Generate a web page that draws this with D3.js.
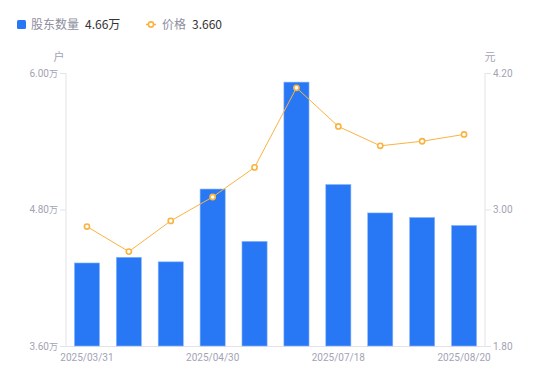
<!DOCTYPE html>
<html><head><meta charset="utf-8">
<script src="https://cdn.jsdelivr.net/npm/d3@7/dist/d3.min.js"></script>
<style>body{margin:0;background:#fff;font-family:"Noto Sans CJK SC","Noto Sans",sans-serif;}</style>
</head><body><svg id="c" width="550" height="381"></svg>
<script>
const categories = ["2025/03/31","2025/04/10","2025/04/20","2025/04/30","2025/05/20","2025/06/30","2025/07/18","2025/07/31","2025/08/10","2025/08/20"];
const holders = [4.33, 4.38, 4.34, 4.98, 4.52, 5.92, 5.02, 4.77, 4.73, 4.66];
const prices = [2.85, 2.63, 2.90, 3.11, 3.37, 4.07, 3.73, 3.56, 3.60, 3.66];
const leftTicks = [3.6, 4.8, 6.0];
const rightTicks = [1.8, 3.0, 4.2];
const shownLabels = ["2025/03/31","2025/04/30","2025/07/18","2025/08/20"];

const svg = d3.select("#c");
const L = 66, R = 485, T = 73, B = 346;
const x = d3.scaleBand().domain(categories).range([L, R]).paddingInner(0.4).paddingOuter(0.2);
const xc = d => x(d) + x.bandwidth()/2;
const yL = d3.scaleLinear().domain([3.6, 6.0]).range([B, T]);
const yR = d3.scaleLinear().domain([1.8, 4.2]).range([B, T]);
const axisColor = "#e3e3e8", textColor = "#a3a3b5";

// axes
const gl = svg.append("g").attr("transform", `translate(${L},0)`)
  .call(d3.axisLeft(yL).tickValues(leftTicks).tickSize(6).tickPadding(2).tickFormat(d => d3.format(".2f")(d) + "万"));
const gr = svg.append("g").attr("transform", `translate(${R},0)`)
  .call(d3.axisRight(yR).tickValues(rightTicks).tickSize(6).tickPadding(2).tickFormat(d3.format(".2f")));
[gl, gr].forEach(g => {
  g.select(".domain").attr("stroke", axisColor).attr("d", `M0,${T}V${B}`);
  g.selectAll(".tick line").attr("stroke", axisColor);
  g.selectAll(".tick text").attr("fill", textColor).style("font-size", "10px").style("font-family", "Roboto, 'Noto Sans', sans-serif");
});
gl.selectAll(".tick text").each(function(){ 
  const t = d3.select(this); const s = t.text(); t.text(null);
  t.append("tspan").text(s.replace("万",""));
  t.append("tspan").style("font-family","'Noto Sans CJK SC'").style("font-size","9px").text("万");
});
// bottom axis line
svg.append("line").attr("x1", L).attr("x2", R).attr("y1", B + 0.5).attr("y2", B + 0.5).attr("stroke", axisColor);

const gx = svg.append("g").attr("transform", `translate(0,${B})`)
  .call(d3.axisBottom(x).tickValues(shownLabels).tickSize(0).tickPadding(8));
gx.select(".domain").remove();
gx.selectAll(".tick text").attr("fill", textColor).style("font-size", "10px").style("font-family", "Roboto, 'Noto Sans', sans-serif");

// axis titles
svg.append("text").attr("x", 59).attr("y", 61).attr("text-anchor", "middle").attr("fill", textColor).style("font-size", "11px").text("户");
svg.append("text").attr("x", 490).attr("y", 61).attr("text-anchor", "middle").attr("fill", textColor).style("font-size", "11px").text("元");

// bars
svg.append("g").selectAll("rect").data(holders).join("rect")
  .attr("x", (d, i) => x(categories[i]))
  .attr("width", x.bandwidth())
  .attr("y", d => yL(d))
  .attr("height", d => B - yL(d))
  .attr("fill", "#2878f5")
  .attr("stroke", "#8fb8fb").attr("stroke-width", 0.6);

// line
const line = d3.line().x((d, i) => xc(categories[i])).y(d => yR(d));
svg.append("path").datum(prices).attr("d", line).attr("fill", "none").attr("stroke", "#fbb33f").attr("stroke-width", 1);
svg.append("g").selectAll("circle").data(prices).join("circle")
  .attr("cx", (d, i) => xc(categories[i])).attr("cy", d => yR(d)).attr("r", 2.6)
  .attr("fill", "#fff").attr("stroke", "#fbb33f").attr("stroke-width", 1.6);

// legend
const lg = svg.append("g").style("font-size", "12px");
lg.append("rect").attr("x", 17).attr("y", 20).attr("width", 9).attr("height", 9).attr("rx", 1.5).attr("fill", "#2878f5");
lg.append("text").attr("x", 31).attr("y", 29).attr("fill", "#8e8ea0").text("股东数量");
lg.append("text").attr("x", 85).attr("y", 29).attr("fill", "#333").text(d3.format(".2f")(holders[holders.length-1]) + "万");
lg.append("line").attr("x1", 146).attr("x2", 156).attr("y1", 24.5).attr("y2", 24.5).attr("stroke", "#fbb33f").attr("stroke-width", 1.5);
lg.append("circle").attr("cx", 151).attr("cy", 24.5).attr("r", 2.6).attr("fill", "#fff").attr("stroke", "#fbb33f").attr("stroke-width", 1.6);
lg.append("text").attr("x", 162).attr("y", 29).attr("fill", "#8e8ea0").text("价格");
lg.append("text").attr("x", 192).attr("y", 29).attr("fill", "#333").text(d3.format(".3f")(prices[prices.length-1]));
</script></body></html>
